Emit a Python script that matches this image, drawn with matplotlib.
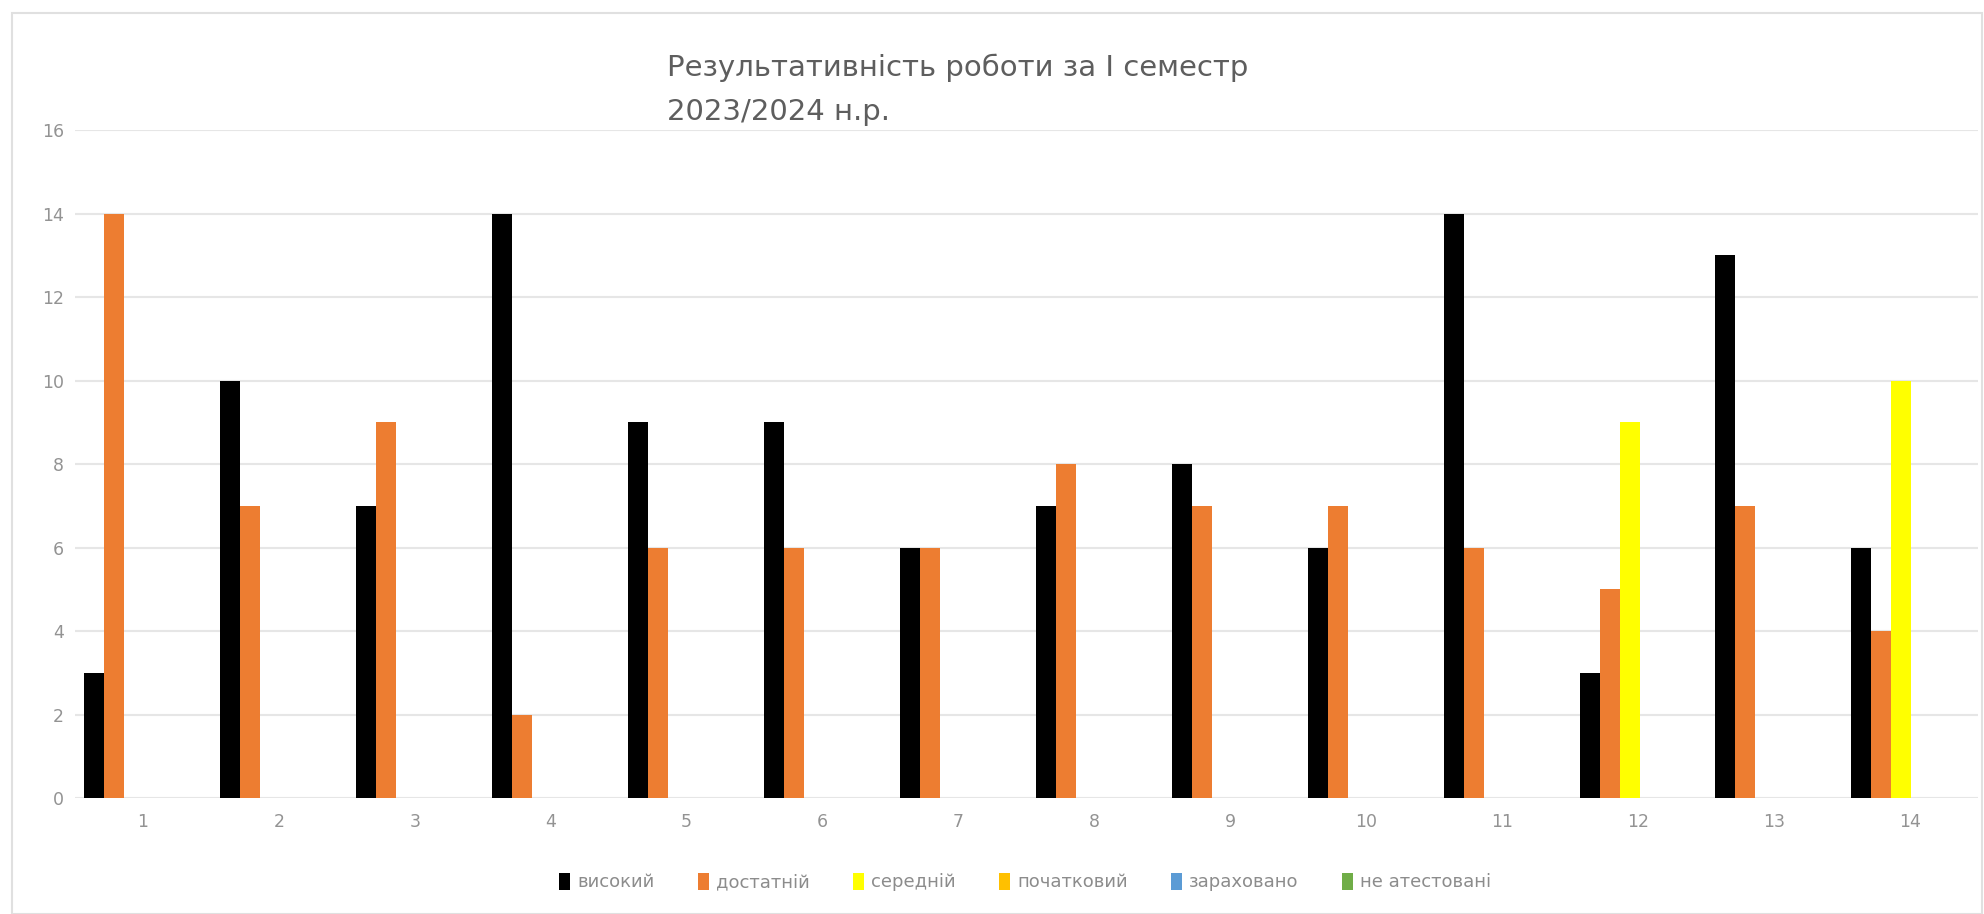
import matplotlib
matplotlib.use("Agg")
import matplotlib.pyplot as plt
import numpy as np
from matplotlib.patches import Rectangle

plt.rcParams['font.family'] = ['DejaVu Sans']

categories = ['1', '2', '3', '4', '5', '6', '7', '8', '9', '10', '11', '12', '13', '14']
series_names = ['високий', 'достатній', 'середній', 'початковий', 'зараховано', 'не атестовані']
vysokyi = [3, 10, 7, 14, 9, 9, 6, 7, 8, 6, 14, 3, 13, 6]
dostatnii = [14, 7, 9, 2, 6, 6, 6, 8, 7, 7, 6, 5, 7, 4]
serednii = [0, 0, 0, 0, 0, 0, 0, 0, 0, 0, 0, 9, 0, 10]
pochatkovyi = [0] * 14
zarakhovano = [0] * 14
ne_atestovani = [0] * 14
colors = ['#000000', '#ED7D31', '#FFFF00', '#FFC000', '#5B9BD5', '#70AD47']
title = 'Результативність роботи за І семестр\n2023/2024 н.р.'

series = [vysokyi, dostatnii, serednii, pochatkovyi, zarakhovano, ne_atestovani]

fig = plt.figure(figsize=(19.84, 9.14), dpi=100)
ax = fig.add_axes([75/1984, 1 - 798/914, (1978 - 75)/1984, (798 - 130)/914])

x = np.arange(len(categories))
w = 1 / 6.8
for k, (vals, c, name) in enumerate(zip(series, colors, series_names)):
    ax.bar(x + (k - 2.5) * w + 0.01, vals, width=w, color=c, label=name, zorder=3)

ax.set_xlim(-0.5, len(categories) - 0.5)
ax.set_ylim(0, 16)
ax.set_yticks(np.arange(0, 17, 2))
ax.set_xticks(x)
ax.set_xticklabels(categories)
ax.yaxis.grid(True, color='#E6E6E6', linewidth=1.5, zorder=0)
ax.set_axisbelow(True)
for s in ax.spines.values():
    s.set_visible(False)
ax.tick_params(axis='both', length=0, labelsize=12.5, colors='#939393')
ax.tick_params(axis='x', pad=11)
ax.tick_params(axis='y', pad=8)

fig.text(667/1984, 1 - 54/914, title, ha='left', va='top', fontsize=21,
         color='#5E5E5E', linespacing=1.72)

leg = fig.legend(loc='center', bbox_to_anchor=(1025/1984, 1 - 882/914), ncol=6,
                 frameon=False, fontsize=13, handlelength=0.6, handleheight=1.1,
                 columnspacing=2.4, handletextpad=0.4)
for t in leg.get_texts():
    t.set_color('#8C8C8C')

fig.patches.append(Rectangle((12/1984, 0), 1 - 14/1984, 1 - 13/914, transform=fig.transFigure,
                             fill=False, edgecolor='#E0E0E0', linewidth=1.5))

fig.savefig('out.png', dpi=100, facecolor='white')
